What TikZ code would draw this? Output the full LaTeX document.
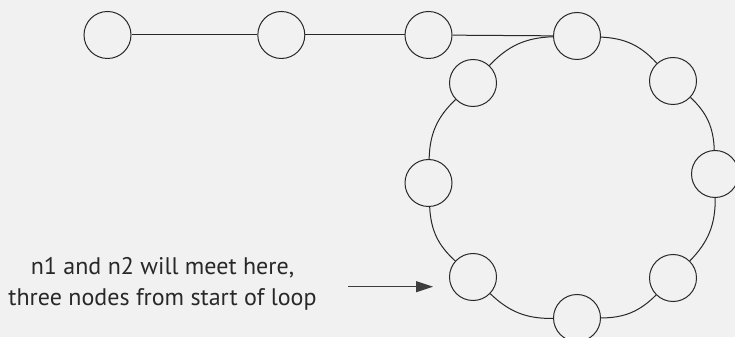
\documentclass[tikz,border=0pt]{standalone}
\usepackage{fontspec}
\setmainfont{PT Sans}
\usetikzlibrary{arrows.meta}
\definecolor{bg}{RGB}{241,241,241}
\definecolor{ink}{RGB}{40,40,40}
\begin{document}
\begin{tikzpicture}[x=1pt,y=1pt,
  listnode/.style={circle,draw=ink,line width=1pt,inner sep=0pt,minimum size=47pt},
  link/.style={draw=ink,line width=1pt},
  pointer/.style={draw=ink!90,line width=1pt,-{Triangle[length=17pt,width=11pt]}},
  lbl/.style={text=ink,font=\fontsize{24}{31}\selectfont,inner sep=0pt}]
\fill[bg] (0,0) rectangle (735,337);
\useasboundingbox (0,0) rectangle (735,337);
% straight part of the list
\node[listnode] (a) at (107.5,302) {};
\node[listnode] (b) at (281.3,302) {};
\node[listnode] (c) at (428.5,302) {};
\node[listnode] (t) at (577,301) {};
% loop
\node[listnode] (ur) at (673,256) {};
\node[listnode] (e)  at (715,163) {};
\node[listnode] (se) at (673,59) {};
\node[listnode] (s)  at (577,19) {};
\node[listnode] (sw) at (473,60) {};
\node[listnode] (w)  at (428.5,154) {};
\node[listnode] (ul) at (473,254) {};
\draw[link] (a) -- (b);
\draw[link] (b) -- (c);
\draw[link] (c) -- (t);
\draw[link] (t) to[bend left=22.5] (ur);
\draw[link] (ur) to[bend left=22.5] (e);
\draw[link] (e) to[bend left=22.5] (se);
\draw[link] (se) to[bend left=22.5] (s);
\draw[link] (s) to[bend left=22.5] (sw);
\draw[link] (sw) to[bend left=22.5] (w);
\draw[link] (w) to[bend left=22.5] (ul);
\draw[link] (ul) to[bend left=22.5] (t);
% label and pointer
\node[lbl,anchor=base] (l1) at (162.5,62.7) {n1 and n2 will meet here,};
\node[lbl,anchor=base] (l2) at (162.5,32) {three nodes from start of loop};
\coordinate (tail) at (348,50.3);
\coordinate (tip) at (433,50.3);
\draw[pointer] (tail) -- (tip);
\end{tikzpicture}
\end{document}
